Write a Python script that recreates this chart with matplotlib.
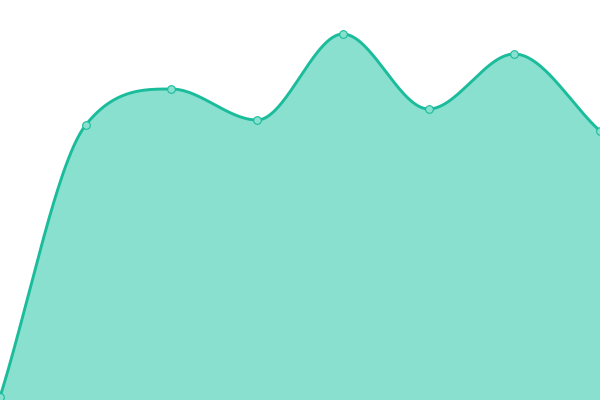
import numpy as np
import matplotlib.pyplot as plt

# Data
xs = np.arange(8)
values = [3, 275, 311, 280, 366, 291, 346, 269]

line_color = "#1abc9c"
fill_color = "#89e0cf"


def monotone(x, y, n=60):
    # monotone cubic interpolation (Fritsch-Carlson, as Chart.js does it)
    x = np.asarray(x, float)
    y = np.asarray(y, float)
    h = np.diff(x)
    d = np.diff(y) / h
    m = np.zeros(len(x))
    m[0] = d[0]
    m[-1] = d[-1]
    for i in range(1, len(x) - 1):
        if np.sign(d[i - 1]) != np.sign(d[i]) or d[i - 1] == 0 or d[i] == 0:
            m[i] = 0
        else:
            m[i] = (d[i - 1] + d[i]) / 2
    for k in range(len(d)):
        if d[k] == 0:
            m[k] = m[k + 1] = 0
            continue
        a = m[k] / d[k]
        b = m[k + 1] / d[k]
        ss = a * a + b * b
        if ss > 9:
            tau = 3 / np.sqrt(ss)
            m[k] = a * tau * d[k]
            m[k + 1] = b * tau * d[k]
    px, py = [], []
    u = np.linspace(0, 1, n)
    for i in range(len(x) - 1):
        dx = h[i] / 3
        P = [(x[i], y[i]), (x[i] + dx, y[i] + dx * m[i]),
             (x[i + 1] - dx, y[i + 1] - dx * m[i + 1]), (x[i + 1], y[i + 1])]
        for j in (0, 1):
            c = ((1 - u) ** 3 * P[0][j] + 3 * (1 - u) ** 2 * u * P[1][j]
                 + 3 * (1 - u) * u ** 2 * P[2][j] + u ** 3 * P[3][j])
            (px if j == 0 else py).extend(c)
    return np.array(px), np.array(py)


fig = plt.figure(figsize=(6, 4), dpi=100)
ax = fig.add_axes([0, 0, 1, 1])
cx, cy = monotone(xs, values)
ax.fill_between(cx, 0, cy, color=fill_color, linewidth=0)
ax.plot(cx, cy, color=line_color, linewidth=2.1)
ax.plot(xs, values, "o", markersize=5.5, markerfacecolor=fill_color,
        markeredgecolor=line_color, markeredgewidth=0.8)
ax.set_xlim(0, 7)
ax.set_ylim(0, 400)
ax.axis("off")
fig.savefig("out.png", dpi=100)
